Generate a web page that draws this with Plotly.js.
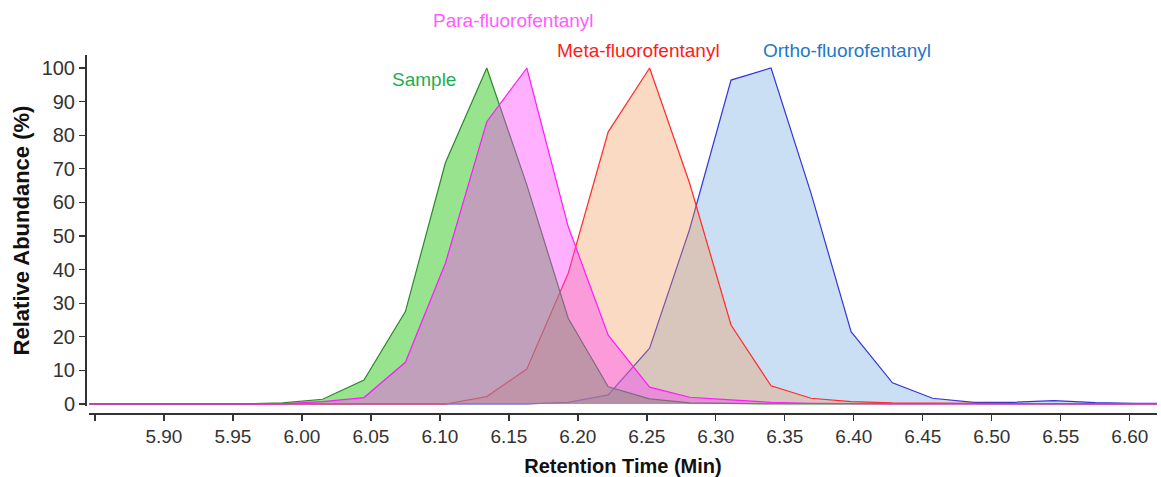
<!DOCTYPE html>
<html>
<head>
<meta charset="utf-8">
<script src="https://cdn.plot.ly/plotly-3.0.1.min.js"></script>
<style>html,body{margin:0;padding:0;background:#fff;}#chart{width:1161px;height:477px;}</style>
</head>
<body>
<div id="chart"></div>
<script>
// Retention times (min)
const times = [5.846, 5.868, 5.897, 5.927, 5.956, 5.986, 6.015, 6.045, 6.075, 6.104, 6.134, 6.163, 6.193, 6.222, 6.252, 6.281, 6.311, 6.340, 6.369, 6.398, 6.428, 6.457, 6.487, 6.516, 6.545, 6.575, 6.604, 6.620];

// Relative abundance (%) for each series
const sample = [0, 0, 0, 0, 0, 0.3, 1.4, 7.1, 27.5, 71.8, 100, 65.2, 25.5, 5.1, 1.5, 0.3, 0.1, 0, 0, 0, 0, 0, 0, 0, 0, 0, 0, 0];
const para   = [0, 0, 0, 0, 0, 0, 0.7, 1.9, 12.4, 41.9, 84.0, 100, 52.8, 20.5, 5.0, 2.0, 1.2, 0.5, 0.2, 0, 0, 0, 0, 0, 0, 0, 0, 0];
const meta   = [0, 0, 0, 0, 0, 0, 0, 0, 0, 0, 2.2, 10.4, 38.9, 81.0, 100, 65.7, 23.5, 5.4, 1.7, 0.7, 0.3, 0.2, 0.1, 0, 0, 0, 0, 0];
const ortho  = [0, 0, 0, 0.2, 0, 0, 0, 0, 0, 0, 0, 0, 0.5, 2.7, 16.6, 52, 96.4, 100, 62.7, 21.5, 6.3, 1.7, 0.5, 0.5, 1.0, 0.4, 0.2, 0.2];

const seriesNames = ["Ortho-fluorofentanyl", "Meta-fluorofentanyl", "Sample", "Para-fluorofentanyl"];

const xTickVals = [5.85, 5.90, 5.95, 6.00, 6.05, 6.10, 6.15, 6.20, 6.25, 6.30, 6.35, 6.40, 6.45, 6.50, 6.55, 6.60];
const xTickText = ["", "5.90", "5.95", "6.00", "6.05", "6.10", "6.15", "6.20", "6.25", "6.30", "6.35", "6.40", "6.45", "6.50", "6.55", "6.60"];
const yTickVals = [0, 10, 20, 30, 40, 50, 60, 70, 80, 90, 100];

const FONT = "Liberation Sans, Arial, sans-serif";

function trace(y, name, line, fill) {
  return {
    x: times, y: y, name: name, type: "scatter", mode: "lines",
    fill: "tozeroy", fillcolor: fill,
    line: {color: line, width: 1.2},
    hoverinfo: "x+y+name"
  };
}

const data = [
  trace(ortho,  seriesNames[0], "#3535d8", "rgba(140,185,230,0.45)"),
  trace(meta,   seriesNames[1], "#ff2a2a", "rgba(240,150,80,0.35)"),
  trace(sample, seriesNames[2], "#2a8a2a", "rgba(50,200,30,0.5)"),
  trace(para,   seriesNames[3], "#ff1aff", "rgba(255,60,255,0.4)")
];

const layout = {
  width: 1161, height: 477,
  margin: {l: 85, r: 4, t: 55, b: 64},
  paper_bgcolor: "#ffffff", plot_bgcolor: "#ffffff",
  showlegend: false,
  font: {family: FONT, color: "#333333"},
  xaxis: {
    domain: [0.0037, 1], range: [5.8457, 6.6197],
    anchor: "free", position: 0,
    showline: true, linecolor: "#333333", linewidth: 1.5,
    showgrid: false, zeroline: false,
    ticks: "outside", ticklen: 6, tickcolor: "#333333", tickwidth: 1.3,
    tickvals: xTickVals, ticktext: xTickText,
    tickfont: {family: FONT, size: 19, color: "#333333"},
    title: {text: "<b>Retention Time (Min)</b>", font: {family: FONT, size: 20, color: "#111111"}, standoff: 12},
    automargin: false
  },
  yaxis: {
    domain: [0.0196, 1], range: [-0.6, 103.87],
    anchor: "free", position: 0,
    showline: true, linecolor: "#333333", linewidth: 1.5,
    showgrid: false, zeroline: false,
    ticks: "outside", ticklen: 6, tickcolor: "#333333", tickwidth: 1.3,
    tickvals: yTickVals,
    tickfont: {family: FONT, size: 20, color: "#333333"},
    title: {text: "<b>Relative Abundance (%)</b>", font: {family: FONT, size: 22, color: "#111111"}, standoff: 4},
    automargin: false
  }
};

// label annotations positioned in pixels via paper coords
function pap(px, py) {
  const w = 1161 - 85 - 4, h = 477 - 55 - 64;
  return {x: (px - 85) / w, y: (477 - 64 - py) / h};
}
const labels = [
  {t: "Para-fluorofentanyl", px: 513, py: 20, c: "#ff5cff"},
  {t: "Meta-fluorofentanyl", px: 638, py: 50, c: "#ff1a1a"},
  {t: "Ortho-fluorofentanyl", px: 847, py: 50, c: "#1f78c8"},
  {t: "Sample", px: 424, py: 80, c: "#1fae4f"}
];
layout.annotations = labels.map(l => {
  const p = pap(l.px, l.py);
  return {text: l.t, xref: "paper", yref: "paper", x: p.x, y: p.y,
          xanchor: "center", yanchor: "middle", showarrow: false,
          font: {family: FONT, size: 19, color: l.c}};
});

Plotly.newPlot("chart", data, layout, {displayModeBar: false, staticPlot: true});
</script>
</body>
</html>
